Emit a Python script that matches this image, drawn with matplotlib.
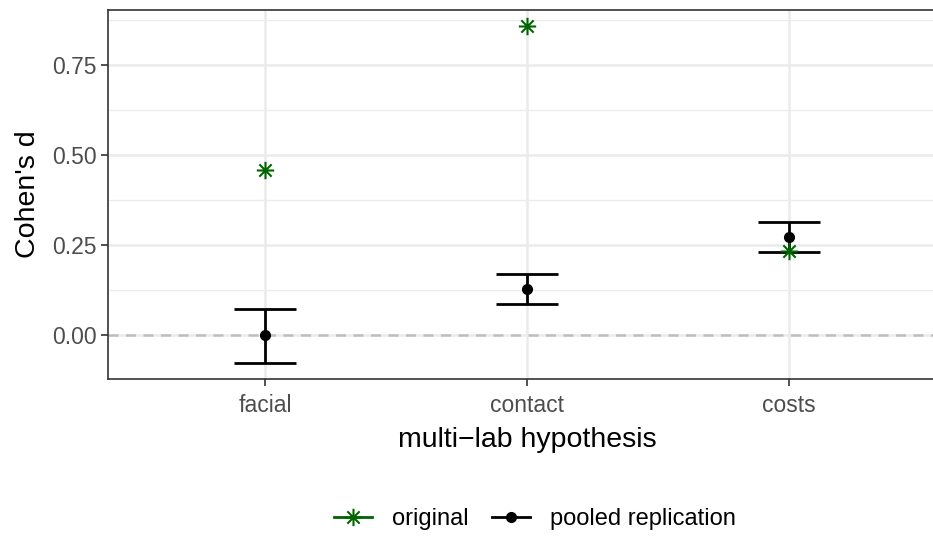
import matplotlib.pyplot as plt
from matplotlib.path import Path
from matplotlib.lines import Line2D
import numpy as np

plt.rcParams['font.family'] = ['Liberation Sans', 'DejaVu Sans']

hypotheses = ["facial", "contact", "costs"]
original_d = [0.459, 0.858, 0.232]
pooled_d = [0.0, 0.127, 0.271]
pooled_lo = [-0.077, 0.086, 0.230]
pooled_hi = [0.072, 0.169, 0.313]

# ggplot shape 8: plus and cross drawn together
ast = Path(
    [(-1, 0), (1, 0), (0, -1), (0, 1),
     (-0.707, -0.707), (0.707, 0.707), (-0.707, 0.707), (0.707, -0.707)],
    [Path.MOVETO, Path.LINETO] * 4,
)

green = "#006400"
fig = plt.figure(figsize=(9.33, 5.36), dpi=100)
ax = fig.add_axes([108 / 933, 1 - 379 / 536, (946 - 108) / 933, (379 - 10) / 536])

x = np.arange(1, len(hypotheses) + 1)
ax.set_xlim(0.4, 3.6)
ax.set_ylim(-0.122, 0.902)

ax.set_yticks([0, 0.25, 0.5, 0.75])
ax.set_yticks([0.125, 0.375, 0.625, 0.875], minor=True)
ax.set_xticks(x)
ax.set_xticklabels(hypotheses)
ax.set_yticklabels(["0.00", "0.25", "0.50", "0.75"])

ax.grid(True, which="major", color="#EBEBEB", lw=1.8, zorder=0)
ax.grid(True, which="minor", axis="y", color="#EBEBEB", lw=0.9, zorder=0)
ax.set_axisbelow(True)
ax.axhline(0, color="#BEBEBE", lw=1.8, ls=(0, (4, 3)), zorder=1)

pooled = np.array(pooled_d)
yerr = [pooled - np.array(pooled_lo), np.array(pooled_hi) - pooled]
ax.errorbar(x, pooled_d, yerr=yerr, fmt="o", color="black", ms=7,
            elinewidth=2, capsize=22, capthick=2, zorder=3)
ax.plot(x, original_d, ls="none", marker=ast, ms=12.5, mew=1.5,
        color=green, zorder=4)

for sp in ax.spines.values():
    sp.set_color("#333333")
    sp.set_linewidth(1.2)
ax.tick_params(which="major", length=5, width=1.2, color="#333333",
               labelcolor="#4D4D4D", labelsize=16.5, pad=3)
ax.tick_params(axis="x", pad=6)
ax.tick_params(which="minor", length=0)

ax.set_xlabel("multi\u2212lab hypothesis", fontsize=20.5, labelpad=7)
ax.set_ylabel("Cohen's d", fontsize=20.5, labelpad=8)

handles = [
    Line2D([], [], color=green, lw=2, marker=ast, ms=12.5, mew=1.5),
    Line2D([], [], color="black", lw=2, marker="o", ms=7),
]
fig.legend(handles, ["original", "pooled replication"], loc="center",
           bbox_to_anchor=(535 / 933, 1 - 519 / 536), ncol=2, frameon=False,
           fontsize=17, handlelength=1.6, handletextpad=0.85, columnspacing=1.0)

fig.savefig("out.png", dpi=100)
